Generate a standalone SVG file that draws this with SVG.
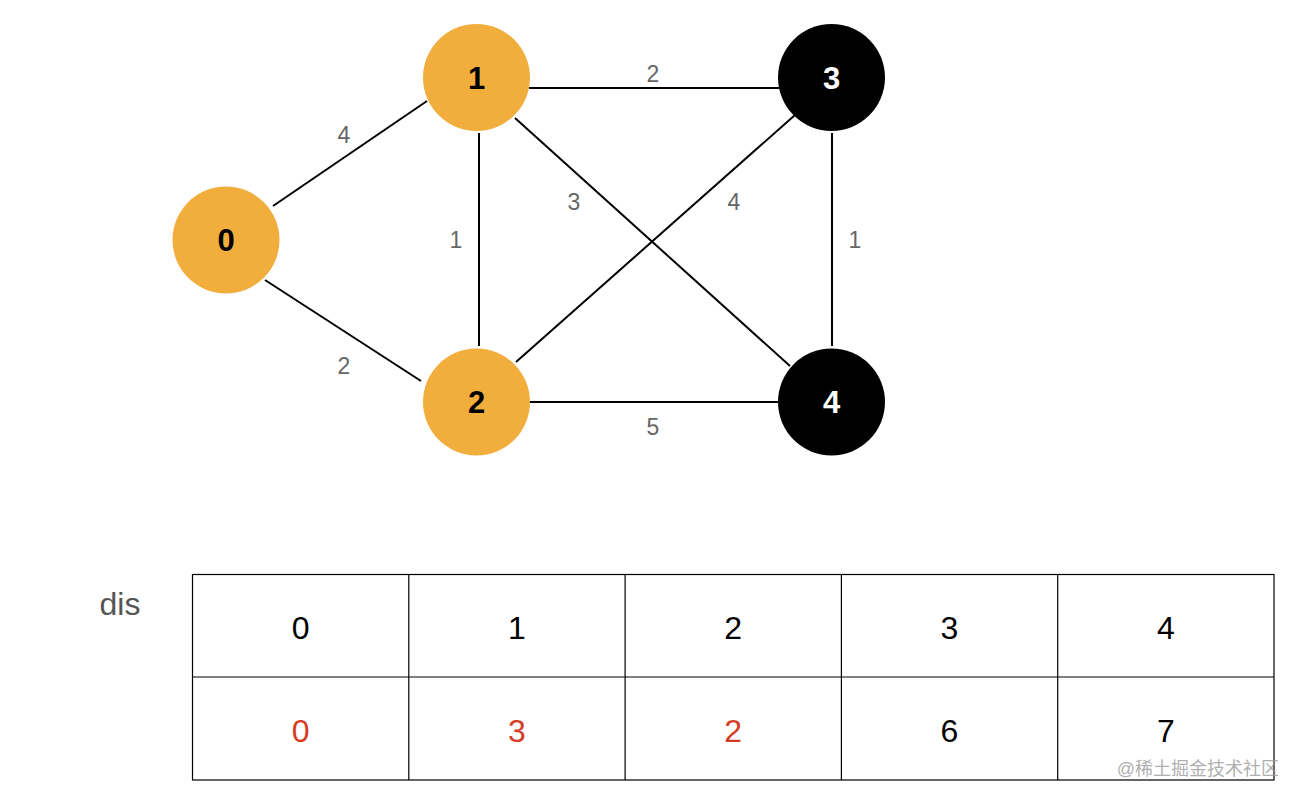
<svg xmlns="http://www.w3.org/2000/svg" width="1300" height="800" viewBox="0 0 1300 800">
<style>
.edge{stroke:#000;stroke-width:2;fill:none}
.w{font-family:"Liberation Sans",Arial,sans-serif;font-size:23px;fill:#666;text-anchor:middle}
.orange{fill:#F1AE3D}
.black{fill:#000}
.nl{font-family:"Liberation Sans",Arial,sans-serif;font-size:31px;font-weight:bold;text-anchor:middle}
.cell{fill:none;stroke:#000;stroke-width:1.2}
.t{font-family:"Liberation Sans",Arial,sans-serif;font-size:32px;text-anchor:middle}
.red{fill:#D63B26}
</style>
<rect width="1300" height="800" fill="#fff"/>
<g id="connectors">
<line class="edge" x1="273" y1="206" x2="427" y2="101"/>
<line class="edge" x1="265" y1="280" x2="421" y2="381"/>
<line class="edge" x1="529" y1="88" x2="779" y2="88"/>
<line class="edge" x1="479" y1="133" x2="479" y2="346"/>
<line class="edge" x1="515" y1="118" x2="790" y2="366"/>
<line class="edge" x1="795" y1="115" x2="516" y2="362"/>
<line class="edge" x1="832" y1="133" x2="832" y2="346"/>
<line class="edge" x1="529" y1="402" x2="779" y2="402"/>
<text class="w" x="344" y="143">4</text>
<text class="w" x="344" y="374">2</text>
<text class="w" x="653" y="82">2</text>
<text class="w" x="456" y="248">1</text>
<text class="w" x="574" y="210">3</text>
<text class="w" x="734" y="210">4</text>
<text class="w" x="855" y="248">1</text>
<text class="w" x="653" y="435">5</text>
</g>
<g id="node0"><circle class="orange" cx="226" cy="240" r="53.5"/><text class="nl" x="226" y="251" fill="#000">0</text></g>
<g id="node1"><circle class="orange" cx="476.5" cy="77.5" r="53.5"/><text class="nl" x="476.5" y="88.5" fill="#000">1</text></g>
<g id="node2"><circle class="orange" cx="476.5" cy="402" r="53.5"/><text class="nl" x="476.5" y="413" fill="#000">2</text></g>
<g id="node3"><circle class="black" cx="831.5" cy="77.5" r="53.5"/><text class="nl" x="831.5" y="88.5" fill="#fff">3</text></g>
<g id="node4"><circle class="black" cx="831.5" cy="402" r="53.5"/><text class="nl" x="831.5" y="413" fill="#fff">4</text></g>
<g id="table">
<text x="120" y="615" font-family="Liberation Sans, Arial, sans-serif" font-size="32" fill="#555" text-anchor="middle">dis</text>
<rect class="cell" x="192.5" y="574.5" width="1081.5" height="205.5"/>
<line class="cell" x1="192.5" y1="677" x2="1274" y2="677"/>
<line class="cell" x1="408.8" y1="574.5" x2="408.8" y2="780"/>
<line class="cell" x1="625.1" y1="574.5" x2="625.1" y2="780"/>
<line class="cell" x1="841.4" y1="574.5" x2="841.4" y2="780"/>
<line class="cell" x1="1057.7" y1="574.5" x2="1057.7" y2="780"/>
<text class="t" x="300.6" y="639">0</text>
<text class="t" x="516.9" y="639">1</text>
<text class="t" x="733.2" y="639">2</text>
<text class="t" x="949.5" y="639">3</text>
<text class="t" x="1165.8" y="639">4</text>
<text class="t red" x="300.6" y="742">0</text>
<text class="t red" x="516.9" y="742">3</text>
<text class="t red" x="733.2" y="742">2</text>
<text class="t" x="949.5" y="742">6</text>
<text class="t" x="1165.8" y="742">7</text>
</g>
<text x="1279" y="775" font-family="Liberation Sans, Noto Sans CJK SC, sans-serif" font-size="18" fill="#999" fill-opacity="0.8" text-anchor="end">@稀土掘金技术社区</text>
</svg>
